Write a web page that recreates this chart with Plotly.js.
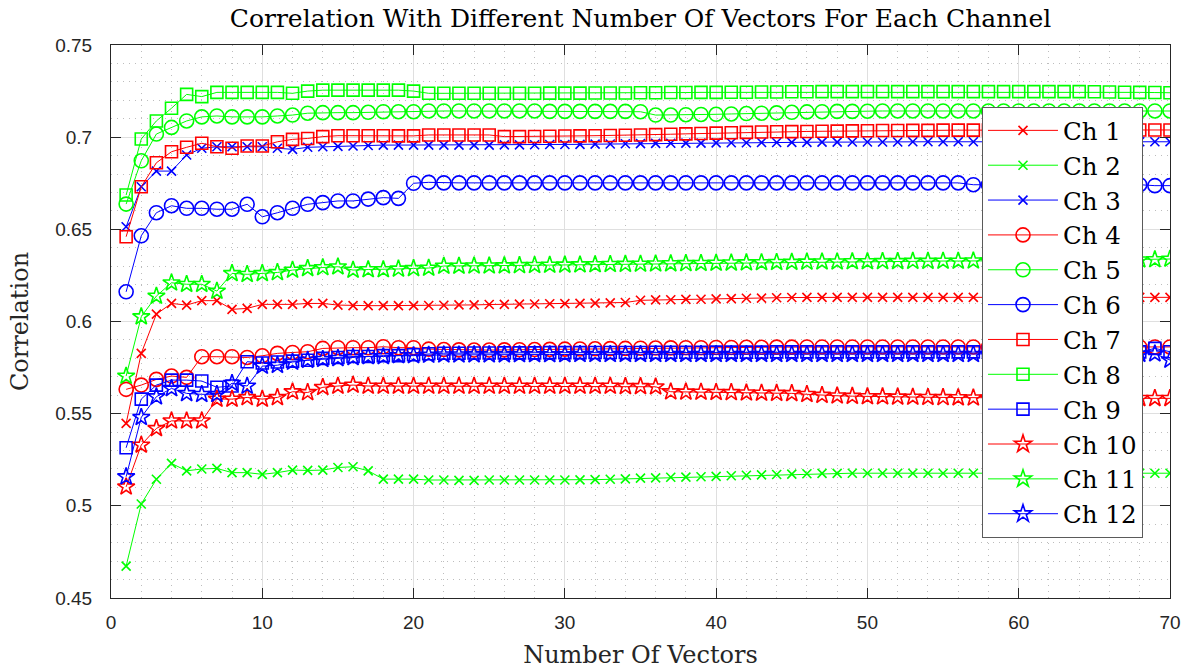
<!DOCTYPE html>
<html>
<head>
<meta charset="utf-8">
<script src="https://cdn.plot.ly/plotly-3.0.1.min.js"></script>
<style>
  html, body { margin: 0; padding: 0; background: #ffffff; }
  #chart { width: 1195px; height: 671px; }
</style>
</head>
<body>
<div id="chart"></div>
<script>
// Number of vectors used (x axis)
const vectorCounts = Array.from({length: 70}, (_, i) => i + 1);

// Correlation per channel, one value per vector count
const ch1 = [
  0.5447,0.5827,0.6040,0.6098,0.6089,0.6113,0.6113,0.6066,0.6071,0.6093,
  0.6093,0.6093,0.6098,0.6098,0.6089,0.6086,0.6086,0.6086,0.6086,0.6086,
  0.6087,0.6088,0.6090,0.6090,0.6092,0.6093,0.6094,0.6095,0.6096,0.6097,
  0.6098,0.6100,0.6101,0.6103,0.6115,0.6117,0.6118,0.6120,0.6121,0.6123,
  0.6124,0.6126,0.6127,0.6129,0.6130,0.6131,0.6131,0.6131,0.6131,0.6131,
  0.6131,0.6131,0.6131,0.6131,0.6131,0.6131,0.6131,0.6131,0.6131,0.6131,
  0.6131,0.6131,0.6131,0.6131,0.6131,0.6131,0.6131,0.6131,0.6131,0.6131
];
const ch2 = [
  0.4673,0.5010,0.5144,0.5230,0.5190,0.5200,0.5203,0.5180,0.5180,0.5171,
  0.5180,0.5194,0.5192,0.5194,0.5208,0.5212,0.5190,0.5145,0.5145,0.5145,
  0.5140,0.5140,0.5138,0.5138,0.5140,0.5140,0.5140,0.5140,0.5140,0.5140,
  0.5141,0.5142,0.5144,0.5146,0.5150,0.5152,0.5155,0.5156,0.5158,0.5160,
  0.5163,0.5166,0.5168,0.5170,0.5172,0.5174,0.5176,0.5176,0.5177,0.5177,
  0.5177,0.5177,0.5177,0.5177,0.5177,0.5177,0.5177,0.5177,0.5177,0.5177,
  0.5177,0.5177,0.5177,0.5177,0.5177,0.5177,0.5177,0.5177,0.5177,0.5177
];
const ch3 = [
  0.6514,0.6731,0.6816,0.6816,0.6903,0.6940,0.6948,0.6948,0.6948,0.6948,
  0.6940,0.6934,0.6945,0.6948,0.6950,0.6952,0.6955,0.6957,0.6957,0.6957,
  0.6957,0.6957,0.6957,0.6957,0.6957,0.6958,0.6958,0.6959,0.6960,0.6960,
  0.6961,0.6962,0.6963,0.6964,0.6965,0.6966,0.6967,0.6968,0.6968,0.6969,
  0.6970,0.6970,0.6971,0.6971,0.6972,0.6972,0.6973,0.6973,0.6974,0.6974,
  0.6974,0.6974,0.6975,0.6975,0.6975,0.6975,0.6975,0.6975,0.6975,0.6975,
  0.6975,0.6975,0.6975,0.6975,0.6975,0.6975,0.6975,0.6975,0.6975,0.6975
];
const ch4 = [
  0.5632,0.5655,0.5686,0.5704,0.5697,0.5809,0.5809,0.5809,0.5805,0.5814,
  0.5827,0.5832,0.5836,0.5854,0.5858,0.5858,0.5858,0.5863,0.5858,0.5858,
  0.5850,0.5848,0.5846,0.5845,0.5845,0.5846,0.5847,0.5848,0.5849,0.5850,
  0.5851,0.5852,0.5853,0.5854,0.5855,0.5856,0.5857,0.5858,0.5858,0.5859,
  0.5859,0.5860,0.5860,0.5861,0.5861,0.5862,0.5862,0.5862,0.5862,0.5862,
  0.5862,0.5862,0.5862,0.5862,0.5862,0.5862,0.5862,0.5862,0.5862,0.5862,
  0.5862,0.5862,0.5862,0.5862,0.5862,0.5862,0.5862,0.5862,0.5862,0.5862
];
const ch5 = [
  0.6637,0.6872,0.7017,0.7053,0.7088,0.7110,0.7115,0.7110,0.7110,0.7110,
  0.7115,0.7120,0.7130,0.7133,0.7133,0.7133,0.7135,0.7138,0.7138,0.7138,
  0.7142,0.7142,0.7142,0.7142,0.7142,0.7142,0.7142,0.7142,0.7140,0.7140,
  0.7140,0.7140,0.7140,0.7140,0.7138,0.7120,0.7120,0.7122,0.7123,0.7124,
  0.7126,0.7128,0.7130,0.7132,0.7135,0.7137,0.7138,0.7140,0.7140,0.7141,
  0.7142,0.7142,0.7142,0.7142,0.7142,0.7142,0.7142,0.7142,0.7142,0.7142,
  0.7142,0.7142,0.7142,0.7142,0.7142,0.7142,0.7142,0.7142,0.7142,0.7142
];
const ch6 = [
  0.6161,0.6465,0.6590,0.6628,0.6614,0.6614,0.6609,0.6609,0.6636,0.6568,
  0.6590,0.6614,0.6636,0.6645,0.6654,0.6654,0.6664,0.6672,0.6668,0.6750,
  0.6755,0.6752,0.6752,0.6752,0.6752,0.6752,0.6752,0.6752,0.6752,0.6752,
  0.6752,0.6752,0.6752,0.6752,0.6752,0.6752,0.6752,0.6752,0.6752,0.6752,
  0.6752,0.6752,0.6752,0.6752,0.6752,0.6752,0.6752,0.6752,0.6752,0.6752,
  0.6752,0.6752,0.6752,0.6752,0.6752,0.6752,0.6742,0.6742,0.6742,0.6742,
  0.6742,0.6742,0.6742,0.6742,0.6742,0.6742,0.6742,0.6742,0.6737,0.6737
];
const ch7 = [
  0.6460,0.6731,0.6861,0.6921,0.6945,0.6967,0.6948,0.6940,0.6952,0.6952,
  0.6975,0.6988,0.6993,0.7003,0.7008,0.7008,0.7008,0.7008,0.7007,0.7007,
  0.7012,0.7012,0.7012,0.7012,0.7012,0.7003,0.7003,0.7004,0.7005,0.7006,
  0.7007,0.7008,0.7009,0.7010,0.7012,0.7014,0.7016,0.7018,0.7020,0.7022,
  0.7024,0.7026,0.7028,0.7029,0.7030,0.7031,0.7032,0.7033,0.7034,0.7035,
  0.7036,0.7036,0.7037,0.7037,0.7038,0.7038,0.7038,0.7039,0.7039,0.7039,
  0.7039,0.7039,0.7039,0.7039,0.7039,0.7039,0.7039,0.7039,0.7039,0.7039
];
const ch8 = [
  0.6686,0.6990,0.7088,0.7157,0.7232,0.7220,0.7243,0.7243,0.7243,0.7243,
  0.7243,0.7238,0.7250,0.7255,0.7255,0.7255,0.7255,0.7255,0.7255,0.7250,
  0.7238,0.7238,0.7238,0.7238,0.7238,0.7238,0.7238,0.7238,0.7239,0.7239,
  0.7239,0.7240,0.7240,0.7240,0.7241,0.7241,0.7242,0.7242,0.7243,0.7243,
  0.7244,0.7244,0.7245,0.7245,0.7246,0.7246,0.7247,0.7247,0.7247,0.7247,
  0.7247,0.7247,0.7247,0.7247,0.7247,0.7247,0.7247,0.7247,0.7247,0.7247,
  0.7247,0.7247,0.7247,0.7247,0.7246,0.7245,0.7244,0.7243,0.7242,0.7241
];
const ch9 = [
  0.5315,0.5579,0.5655,0.5682,0.5682,0.5677,0.5643,0.5650,0.5782,0.5775,
  0.5780,0.5785,0.5790,0.5800,0.5805,0.5810,0.5810,0.5815,0.5815,0.5820,
  0.5825,0.5828,0.5828,0.5829,0.5829,0.5830,0.5830,0.5830,0.5831,0.5831,
  0.5831,0.5832,0.5832,0.5832,0.5832,0.5833,0.5833,0.5833,0.5833,0.5834,
  0.5834,0.5834,0.5834,0.5835,0.5835,0.5835,0.5835,0.5835,0.5835,0.5835,
  0.5835,0.5835,0.5835,0.5835,0.5835,0.5835,0.5835,0.5835,0.5835,0.5835,
  0.5835,0.5835,0.5835,0.5835,0.5835,0.5835,0.5835,0.5835,0.5854,0.5836
];
const ch10 = [
  0.5103,0.5330,0.5420,0.5461,0.5461,0.5461,0.5579,0.5579,0.5588,0.5579,
  0.5588,0.5619,0.5615,0.5643,0.5650,0.5655,0.5650,0.5650,0.5650,0.5650,
  0.5650,0.5650,0.5650,0.5650,0.5650,0.5650,0.5650,0.5650,0.5650,0.5650,
  0.5650,0.5650,0.5650,0.5648,0.5648,0.5646,0.5619,0.5618,0.5617,0.5616,
  0.5615,0.5613,0.5612,0.5611,0.5610,0.5605,0.5600,0.5597,0.5595,0.5593,
  0.5592,0.5591,0.5590,0.5589,0.5588,0.5587,0.5586,0.5585,0.5585,0.5584,
  0.5584,0.5584,0.5584,0.5583,0.5583,0.5583,0.5583,0.5583,0.5583,0.5583
];
const ch11 = [
  0.5704,0.6026,0.6138,0.6210,0.6202,0.6202,0.6165,0.6261,0.6256,0.6261,
  0.6266,0.6279,0.6288,0.6293,0.6297,0.6279,0.6282,0.6282,0.6285,0.6288,
  0.6290,0.6301,0.6301,0.6302,0.6302,0.6303,0.6304,0.6305,0.6306,0.6307,
  0.6308,0.6309,0.6310,0.6311,0.6312,0.6313,0.6314,0.6315,0.6316,0.6317,
  0.6318,0.6319,0.6320,0.6321,0.6322,0.6323,0.6324,0.6324,0.6325,0.6325,
  0.6326,0.6326,0.6327,0.6327,0.6328,0.6328,0.6329,0.6329,0.6330,0.6330,
  0.6331,0.6331,0.6332,0.6332,0.6333,0.6333,0.6334,0.6335,0.6336,0.6339
];
const ch12 = [
  0.5158,0.5480,0.5592,0.5637,0.5610,0.5605,0.5605,0.5665,0.5650,0.5758,
  0.5763,0.5780,0.5790,0.5795,0.5800,0.5805,0.5810,0.5810,0.5815,0.5815,
  0.5818,0.5819,0.5819,0.5820,0.5820,0.5820,0.5821,0.5821,0.5821,0.5821,
  0.5822,0.5822,0.5822,0.5822,0.5822,0.5822,0.5822,0.5822,0.5822,0.5822,
  0.5822,0.5822,0.5822,0.5822,0.5822,0.5822,0.5822,0.5822,0.5822,0.5822,
  0.5822,0.5822,0.5822,0.5822,0.5822,0.5822,0.5822,0.5822,0.5822,0.5822,
  0.5822,0.5822,0.5822,0.5822,0.5822,0.5822,0.5822,0.5823,0.5825,0.5791
];

const channelNames = ['Ch 1','Ch 2','Ch 3','Ch 4','Ch 5','Ch 6','Ch 7','Ch 8','Ch 9','Ch 10','Ch 11','Ch 12'];
const channelValues = [ch1, ch2, ch3, ch4, ch5, ch6, ch7, ch8, ch9, ch10, ch11, ch12];

const yTickVals = [0.45, 0.5, 0.55, 0.6, 0.65, 0.7, 0.75];
const yTickText = ['0.45', '0.5', '0.55', '0.6', '0.65', '0.7', '0.75'];
const xTickVals = [0, 10, 20, 30, 40, 50, 60, 70];

// Colour cycles red/green/blue, marker changes every three channels
const colours = ['#ff0000', '#00ff00', '#0000ff'];
const markerStyles = [
  {symbol: 'x-thin-open', size: 9},
  {symbol: 'circle-open', size: 14},
  {symbol: 'square-open', size: 12},
  {symbol: 'star-open', size: 13}
];

const traces = channelValues.map((vals, i) => {
  const c = colours[i % 3];
  const m = markerStyles[Math.floor(i / 3)];
  return {
    x: vectorCounts,
    y: vals,
    name: channelNames[i],
    type: 'scatter',
    mode: 'lines+markers',
    line: {color: c, width: 1},
    marker: {symbol: m.symbol, size: m.size, color: c, line: {color: c, width: 1.6}}
  };
});

const serif = '"DejaVu Serif", "Liberation Serif", serif';
const sans = '"Liberation Sans", Arial, sans-serif';

const layout = {
  width: 1195,
  height: 671,
  paper_bgcolor: '#ffffff',
  plot_bgcolor: '#ffffff',
  margin: {l: 111, r: 25, t: 45, b: 73, pad: 0},
  showlegend: true,
  title: {
    text: 'Correlation With Different Number Of Vectors For Each Channel',
    font: {family: serif, size: 25, color: '#000000'},
    x: 0.5, xref: 'paper', xanchor: 'center',
    y: 1, yref: 'container', yanchor: 'top', pad: {t: 9}
  },
  xaxis: {
    range: [0, 70],
    tickvals: xTickVals,
    ticks: 'inside', ticklen: 10, tickwidth: 1, tickcolor: '#262626',
    showline: true, linecolor: '#262626', linewidth: 1, mirror: 'ticks',
    showgrid: true, gridcolor: '#dfdfdf', gridwidth: 1,
    zeroline: false,
    tickfont: {family: sans, size: 19, color: '#262626'},
    ticklabelstandoff: 7,
    minor: {dtick: 2, tick0: 0, showgrid: true, gridcolor: '#bdbdbd', gridwidth: 1, griddash: '1px,5px', ticks: ''},
    title: {text: 'Number Of Vectors', font: {family: serif, size: 24, color: '#262626'}, standoff: 14}
  },
  yaxis: {
    range: [0.45, 0.75],
    tickvals: yTickVals, ticktext: yTickText,
    ticks: 'inside', ticklen: 10, tickwidth: 1, tickcolor: '#262626',
    showline: true, linecolor: '#262626', linewidth: 1, mirror: 'ticks',
    showgrid: true, gridcolor: '#dfdfdf', gridwidth: 1,
    zeroline: false,
    tickfont: {family: sans, size: 19, color: '#262626'},
    ticklabelstandoff: 14,
    minor: {dtick: 0.01, tick0: 0.45, showgrid: true, gridcolor: '#bdbdbd', gridwidth: 1, griddash: '1px,5px', ticks: ''},
    title: {text: 'Correlation', font: {family: serif, size: 24, color: '#262626'}, standoff: 19}
  },
  legend: {
    x: 0.9745, xref: 'paper', xanchor: 'right',
    y: 0.888, yref: 'paper', yanchor: 'top',
    bgcolor: '#ffffff', bordercolor: '#5a5a5a', borderwidth: 1,
    font: {family: serif, size: 24.5, color: '#000000'},
    itemwidth: 70,
    tracegroupgap: 0
  }
};

Plotly.newPlot('chart', traces, layout, {displayModeBar: false, staticPlot: true});
</script>
</body>
</html>
